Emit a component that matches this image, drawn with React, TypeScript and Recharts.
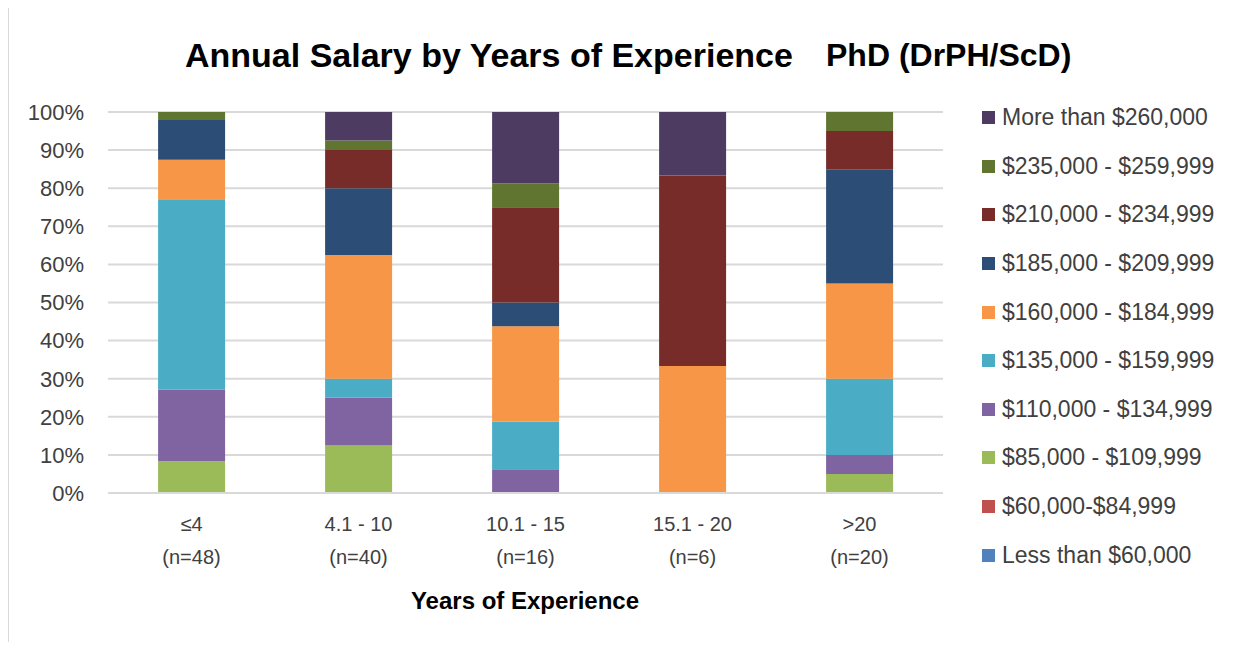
import { BarChart, Bar, XAxis, YAxis, CartesianGrid } from "recharts";

const categories = ["≤4", "4.1 - 10", "10.1 - 15", "15.1 - 20", ">20"];
const sampleSizes = [48, 40, 16, 6, 20];

// respondent counts per experience band (bottom of the stack first)
const lessThan60k = [0, 0, 0, 0, 0];
const from60kTo85k = [0, 0, 0, 0, 0];
const from85kTo110k = [4, 5, 0, 0, 1];
const from110kTo135k = [9, 5, 1, 0, 1];
const from135kTo160k = [24, 2, 2, 0, 4];
const from160kTo185k = [5, 13, 4, 2, 5];
const from185kTo210k = [5, 7, 1, 0, 6];
const from210kTo235k = [0, 4, 4, 3, 2];
const from235kTo260k = [1, 1, 1, 0, 1];
const moreThan260k = [0, 3, 3, 1, 0];

const yTicks = [0, 10, 20, 30, 40, 50, 60, 70, 80, 90, 100];

const series = [
  { key: "lt60", name: "Less than $60,000", values: lessThan60k, color: "#4f81bd" },
  { key: "s60", name: "$60,000-$84,999", values: from60kTo85k, color: "#c0504d" },
  { key: "s85", name: "$85,000 - $109,999", values: from85kTo110k, color: "#9bbb59" },
  { key: "s110", name: "$110,000 - $134,999", values: from110kTo135k, color: "#8064a2" },
  { key: "s135", name: "$135,000 - $159,999", values: from135kTo160k, color: "#4bacc6" },
  { key: "s160", name: "$160,000 - $184,999", values: from160kTo185k, color: "#f79646" },
  { key: "s185", name: "$185,000 - $209,999", values: from185kTo210k, color: "#2c4d75" },
  { key: "s210", name: "$210,000 - $234,999", values: from210kTo235k, color: "#772c2a" },
  { key: "s235", name: "$235,000 - $259,999", values: from235kTo260k, color: "#5f7530" },
  { key: "gt260", name: "More than $260,000", values: moreThan260k, color: "#4d3b62" },
];

const FONT = "'Liberation Sans', Arial, sans-serif";

const CategoryTick = (props: any) => {
  const { x, y, payload, index } = props;
  return (
    <g>
      <text x={x} y={y + 38} textAnchor="middle" fontSize={20} fill="#404040" fontFamily={FONT}>
        {payload.value}
      </text>
      <text x={x} y={y + 71} textAnchor="middle" fontSize={20} fill="#404040" fontFamily={FONT}>
        {`(n=${sampleSizes[index]})`}
      </text>
    </g>
  );
};

export default function App() {
  const data = categories.map((cat, i) => {
    const row: Record<string, any> = { category: cat };
    series.forEach((s) => {
      row[s.key] = s.values[i];
    });
    return row;
  });

  const legendItems = [...series].reverse();

  return (
    <div
      style={{
        position: "relative",
        width: 1250,
        height: 650,
        margin: -8,
        background: "#fff",
        fontFamily: FONT,
        overflow: "hidden",
      }}
    >
      <div
        style={{
          position: "absolute",
          left: 7,
          top: 4,
          right: 0,
          bottom: 0,
          borderTop: "2px solid #d9d9d9",
          borderLeft: "2px solid #d9d9d9",
        }}
      />
      <div style={{ position: "absolute", left: 185, top: 35, fontSize: 34, lineHeight: "40px", fontWeight: 700, color: "#000", whiteSpace: "nowrap" }}>
        Annual Salary by Years of Experience
      </div>
      <div style={{ position: "absolute", left: 826, top: 35, fontSize: 32, lineHeight: "40px", fontWeight: 700, color: "#000", whiteSpace: "nowrap" }}>
        PhD (DrPH/ScD)
      </div>

      <div style={{ position: "absolute", left: 0, top: 0 }}>
        <BarChart
          width={1250}
          height={650}
          data={data}
          stackOffset="expand"
          barCategoryGap="30%"
          margin={{ top: 112, right: 307, bottom: 77, left: 8 }}
        >
          <CartesianGrid vertical={false} stroke="#d9d9d9" strokeWidth={2} />
          <XAxis
            dataKey="category"
            height={80}
            axisLine={{ stroke: "#d9d9d9", strokeWidth: 2 }}
            tickLine={false}
            tickSize={0}
            tickMargin={0}
            interval={0}
            tick={<CategoryTick />}
          />
          <YAxis
            width={100}
            domain={[0, 1]}
            ticks={yTicks.map((t) => t / 100)}
            tickFormatter={(v: number) => `${Math.round(v * 100)}%`}
            axisLine={false}
            tickLine={false}
            tickSize={0}
            tickMargin={24}
            tick={{ fontSize: 22, fill: "#404040", fontFamily: FONT }}
          />
          {series.map((s) => (
            <Bar key={s.key} dataKey={s.key} name={s.name} stackId="a" fill={s.color} isAnimationActive={false} />
          ))}
        </BarChart>
      </div>

      <div
        style={{
          position: "absolute",
          left: 325,
          top: 586,
          width: 400,
          textAlign: "center",
          fontSize: 24,
          lineHeight: "30px",
          fontWeight: 700,
          color: "#000",
        }}
      >
        Years of Experience
      </div>

      {legendItems.map((s, i) => (
        <div
          key={s.key}
          style={{
            position: "absolute",
            left: 982,
            top: 117.7 + i * 48.6 - 15,
            height: 30,
            display: "flex",
            alignItems: "center",
            whiteSpace: "nowrap",
          }}
        >
          <span style={{ display: "inline-block", width: 13, height: 13, background: s.color, marginRight: 7 }} />
          <span style={{ fontSize: 23, color: "#404040" }}>{s.name}</span>
        </div>
      ))}
    </div>
  );
}
